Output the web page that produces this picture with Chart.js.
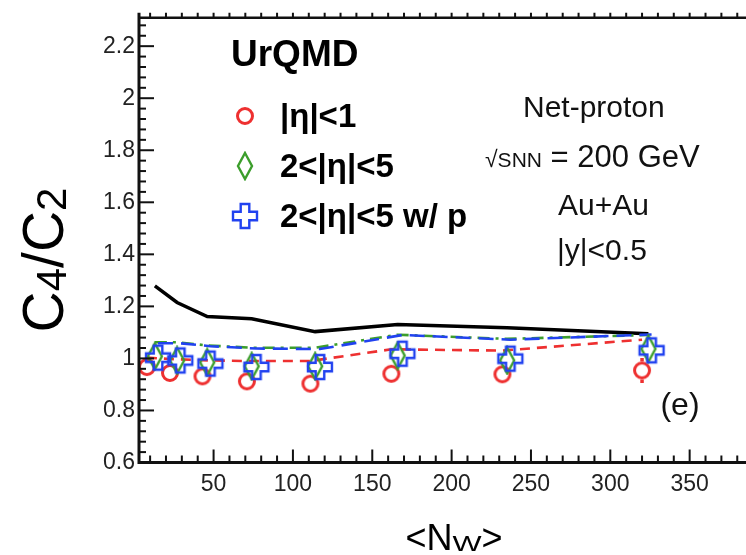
<!DOCTYPE html>
<html>
<head>
<meta charset="utf-8">
<script src="https://cdn.jsdelivr.net/npm/chart.js@4.4.1/dist/chart.umd.min.js"></script>
<style>
  html, body { margin: 0; padding: 0; background: #fff; overflow: hidden; }
  #wrap { width: 746px; height: 555px; overflow: hidden; }
</style>
</head>
<body>
<div id="wrap"><canvas id="c4c2Chart" width="790" height="555"></canvas></div>
<script>
// <N_W> of each centrality bin, sets are shifted a little so markers don't overlap
const nwEta1 = [8, 22.5, 43, 71, 111, 162, 232, 320];
const nwEta25 = [13, 27, 46, 74, 114, 166, 235, 324];
const nwEta25p = [15, 29, 48, 77, 117, 169, 237, 326];

// C4/C2 points
const c42Eta1 = [0.967, 0.944, 0.931, 0.912, 0.903, 0.941, 0.939, 0.954];
const errEta1 = [0.02, 0.02, 0.02, 0.02, 0.02, 0.02, 0.02, 0.048];
const c42Eta25 = [1.008, 0.992, 0.985, 0.970, 0.970, 1.011, 0.992, 1.037];
const c42Eta25p = [1.003, 0.992, 0.980, 0.967, 0.967, 1.018, 0.999, 1.031];

// curves
const curveBlack = [1.279, 1.215, 1.161, 1.152, 1.103, 1.130, 1.118, 1.095];
const curveEta1 = [1.003, 0.998, 0.993, 0.990, 0.990, 1.035, 1.030, 1.072];
const curveEta25 = [1.062, 1.062, 1.050, 1.041, 1.041, 1.091, 1.075, 1.090];
const curveEta25p = [1.058, 1.058, 1.047, 1.038, 1.036, 1.090, 1.072, 1.092];

const xTicks = [50, 100, 150, 200, 250, 300, 350];
const yTicks = [0.6, 0.8, 1, 1.2, 1.4, 1.6, 1.8, 2, 2.2];

const RED = '#ee3030';
const GREEN = '#3c9e2c';
const BLUE = '#2142f0';
const FONT = "'Liberation Sans', Arial, Helvetica, sans-serif";

function makeMarker(w, h, draw) {
    const c = document.createElement('canvas');
    c.width = w;
    c.height = h;
    draw(c.getContext('2d'));
    return c;
}

const circleMark = makeMarker(22, 22, g => {
    g.strokeStyle = RED;
    g.lineWidth = 3;
    g.beginPath();
    g.arc(11, 11, 7.5, 0, Math.PI * 2);
    g.stroke();
});

const diamondMark = makeMarker(20, 30, g => {
    g.strokeStyle = GREEN;
    g.lineWidth = 2.4;
    g.beginPath();
    g.moveTo(10, 2);
    g.lineTo(17, 15);
    g.lineTo(10, 28);
    g.lineTo(3, 15);
    g.closePath();
    g.stroke();
});

const crossMark = makeMarker(30, 30, g => {
    const c = 15, a = 12, b = 4.3;
    const pts = [[c - b, c - a], [c + b, c - a], [c + b, c - b], [c + a, c - b], [c + a, c + b], [c + b, c + b],
                 [c + b, c + a], [c - b, c + a], [c - b, c + b], [c - a, c + b], [c - a, c - b], [c - b, c - b]];
    g.strokeStyle = BLUE;
    g.lineWidth = 2.4;
    g.lineJoin = 'miter';
    g.beginPath();
    pts.forEach((p, i) => i ? g.lineTo(p[0], p[1]) : g.moveTo(p[0], p[1]));
    g.closePath();
    g.stroke();
});

const toPoints = (xs, ys) => xs.map((x, i) => ({ x: x, y: ys[i] }));

// frame with inward tick marks (ROOT style)
const axisFrame = {
    id: 'axisFrame',
    afterDatasetsDraw(chart) {
        const { ctx, chartArea: a, scales: { x, y } } = chart;
        ctx.save();
        ctx.strokeStyle = '#111';
        ctx.lineWidth = 2;
        for (let k = 1; k * 10 <= x.max; k++) {
            const px = x.getPixelForValue(k * 10);
            const len = k % 5 === 0 ? 13 : 7;
            ctx.beginPath();
            ctx.moveTo(px, a.bottom);
            ctx.lineTo(px, a.bottom - len);
            ctx.moveTo(px, a.top);
            ctx.lineTo(px, a.top - 5);
            ctx.stroke();
        }
        for (let k = 0; 0.6 + k * 0.04 <= y.max; k++) {
            const py = y.getPixelForValue(0.6 + k * 0.04);
            const len = k % 5 === 0 ? 15 : 7;
            ctx.beginPath();
            ctx.moveTo(a.left, py);
            ctx.lineTo(a.left + len, py);
            ctx.stroke();
        }
        ctx.lineWidth = 3;
        ctx.beginPath();
        ctx.moveTo(a.left, a.top - 5);
        ctx.lineTo(a.left, a.bottom);
        ctx.moveTo(a.left - 1.5, a.bottom);
        ctx.lineTo(a.right, a.bottom);
        ctx.stroke();
        ctx.lineWidth = 2.5;
        ctx.beginPath();
        ctx.moveTo(a.left, a.top);
        ctx.lineTo(a.right, a.top);
        ctx.stroke();
        ctx.restore();
    }
};

// error bars for the |eta|<1 set, left open inside the circle
const errorBars = {
    id: 'errorBars',
    afterDatasetsDraw(chart) {
        const { ctx, scales: { x, y } } = chart;
        ctx.save();
        ctx.strokeStyle = RED;
        ctx.lineWidth = 3.5;
        nwEta1.forEach((nw, i) => {
            const px = x.getPixelForValue(nw);
            const py = y.getPixelForValue(c42Eta1[i]);
            const lo = y.getPixelForValue(c42Eta1[i] - errEta1[i]);
            const hi = y.getPixelForValue(c42Eta1[i] + errEta1[i]);
            const r = 9;
            ctx.beginPath();
            if (lo > py + r) { ctx.moveTo(px, py + r); ctx.lineTo(px, lo); }
            if (hi < py - r) { ctx.moveTo(px, py - r); ctx.lineTo(px, hi); }
            ctx.stroke();
        });
        ctx.restore();
    }
};

// draws a run of text pieces with their own size / shift / horizontal stretch
function textRun(ctx, x, y, parts, align) {
    let total = 0;
    parts.forEach(p => {
        ctx.font = (p.bold ? 'bold ' : '') + p.size + 'px ' + FONT;
        p.w = ctx.measureText(p.t).width * (p.sx || 1);
        total += p.w;
    });
    let cx = align === 'center' ? x - total / 2 : x;
    parts.forEach(p => {
        ctx.font = (p.bold ? 'bold ' : '') + p.size + 'px ' + FONT;
        ctx.save();
        ctx.translate(cx, y + (p.dy || 0));
        ctx.scale(p.sx || 1, 1);
        ctx.fillText(p.t, 0, 0);
        ctx.restore();
        cx += p.w;
    });
}

const textLayer = {
    id: 'textLayer',
    afterDraw(chart) {
        const ctx = chart.ctx;
        ctx.save();
        ctx.fillStyle = '#000';
        ctx.textBaseline = 'alphabetic';
        ctx.textAlign = 'left';

        // legend
        textRun(ctx, 231, 66, [{ t: 'UrQMD', size: 37, bold: true }]);
        const rows = [
            { mark: circleMark, text: '|η|<1', y: 116 },
            { mark: diamondMark, text: '2<|η|<5', y: 166 },
            { mark: crossMark, text: '2<|η|<5 w/ p', y: 216 }
        ];
        rows.forEach(r => {
            ctx.drawImage(r.mark, 245 - r.mark.width / 2, r.y - r.mark.height / 2);
            textRun(ctx, 280, r.y + 11, [{ t: r.text, size: 33, bold: true }]);
        });

        // system labels
        ctx.fillStyle = '#111';
        textRun(ctx, 523, 117, [{ t: 'Net-proton', size: 30 }]);
        textRun(ctx, 485, 167, [
            { t: '√', size: 23 },
            { t: 'SNN', size: 21 },
            { t: ' = 200 GeV', size: 31 }
        ]);
        textRun(ctx, 558, 215, [{ t: 'Au+Au', size: 30 }]);
        textRun(ctx, 557, 260, [{ t: '|y|<0.5', size: 30 }]);
        textRun(ctx, 680, 415, [{ t: '(e)', size: 32 }], 'center');

        // axis titles
        ctx.fillStyle = '#000';
        textRun(ctx, 454, 550, [
            { t: '<N', size: 36 },
            { t: 'W', size: 22, sx: 1.4, dy: 1 },
            { t: '>', size: 36 }
        ], 'center');

        ctx.translate(63, 260);
        ctx.rotate(-Math.PI / 2);
        textRun(ctx, 0, 0, [
            { t: 'C', size: 57 },
            { t: '4', size: 42, dy: 3 },
            { t: '/C', size: 57 },
            { t: '2', size: 42, dy: 3 }
        ], 'center');
        ctx.restore();
    }
};

const tickFont = { family: FONT, size: 23 };

new Chart(document.getElementById('c4c2Chart'), {
    type: 'scatter',
    data: {
        datasets: [
            { label: '2<|η|<5 w/ p', data: toPoints(nwEta25p, c42Eta25p), pointStyle: crossMark, pointRadius: 8, order: 1 },
            { label: '2<|η|<5', data: toPoints(nwEta25, c42Eta25), pointStyle: diamondMark, pointRadius: 8, order: 2 },
            { label: '|η|<1', data: toPoints(nwEta1, c42Eta1), pointStyle: circleMark, pointRadius: 8, order: 3 },
            { data: toPoints(nwEta1, curveEta1), showLine: true, pointRadius: 0, borderColor: RED, borderWidth: 2.6, borderDash: [10, 7], order: 4 },
            { data: toPoints(nwEta25p, curveEta25p), showLine: true, pointRadius: 0, borderColor: BLUE, borderWidth: 2.6, borderDash: [15, 8], order: 5 },
            { data: toPoints(nwEta25, curveEta25), showLine: true, pointRadius: 0, borderColor: GREEN, borderWidth: 2.6, borderDash: [12, 6, 3, 6], order: 6 },
            { data: toPoints(nwEta25, curveBlack), showLine: true, pointRadius: 0, borderColor: '#000', borderWidth: 3.5, order: 7 }
        ]
    },
    options: {
        responsive: false,
        animation: false,
        events: [],
        layout: { padding: { left: 0, top: 16, right: 21, bottom: 0 } },
        plugins: { legend: { display: false }, tooltip: { enabled: false } },
        scales: {
            x: {
                type: 'linear',
                min: 3,
                max: 400,
                grid: { display: false, drawTicks: false },
                border: { display: false },
                afterBuildTicks: s => { s.ticks = xTicks.map(v => ({ value: v })); },
                afterFit: s => { s.height = 92.5; },
                ticks: { font: tickFont, color: '#222', padding: 8, maxRotation: 0, autoSkip: false }
            },
            y: {
                type: 'linear',
                min: 0.6,
                max: 2.309,
                grid: { display: false, drawTicks: false },
                border: { display: false },
                afterBuildTicks: s => { s.ticks = yTicks.map(v => ({ value: v })); },
                afterFit: s => { s.width = 139; },
                ticks: { font: tickFont, color: '#222', padding: 4, autoSkip: false, callback: v => String(v) }
            }
        }
    },
    plugins: [axisFrame, errorBars, textLayer]
});
</script>
</body>
</html>
